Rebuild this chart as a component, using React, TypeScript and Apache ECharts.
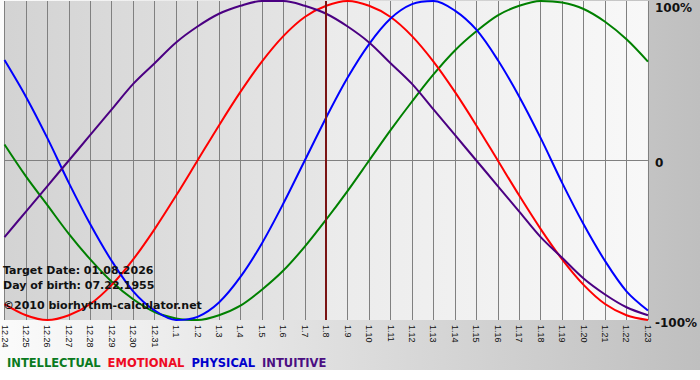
import React, { useEffect, useRef } from "react";
import * as echarts from "echarts";

const days = [
  "12.24", "12.25", "12.26", "12.27", "12.28", "12.29", "12.30", "12.31",
  "1.1", "1.2", "1.3", "1.4", "1.5", "1.6", "1.7", "1.8", "1.9", "1.10",
  "1.11", "1.12", "1.13", "1.14", "1.15", "1.16", "1.17", "1.18", "1.19",
  "1.20", "1.21", "1.22", "1.23",
];

const intellectual = [
  0.1, -0.1, -0.28, -0.46, -0.62, -0.76, -0.87, -0.95, -0.99, -1.0, -0.97,
  -0.91, -0.81, -0.69, -0.54, -0.37, -0.19, 0, 0.19, 0.37, 0.54, 0.69, 0.81,
  0.91, 0.97, 1.0, 0.99, 0.95, 0.87, 0.76, 0.62,
];

const emotional = [
  -0.9, -0.97, -1.0, -0.97, -0.9, -0.78, -0.62, -0.43, -0.22, 0, 0.22, 0.43,
  0.62, 0.78, 0.9, 0.97, 1.0, 0.97, 0.9, 0.78, 0.62, 0.43, 0.22, 0, -0.22,
  -0.43, -0.62, -0.78, -0.9, -0.97, -1.0,
];

const physical = [
  0.63, 0.4, 0.14, -0.14, -0.4, -0.63, -0.82, -0.94, -1.0, -0.98, -0.89,
  -0.73, -0.52, -0.27, 0, 0.27, 0.52, 0.73, 0.89, 0.98, 1.0, 0.94, 0.82, 0.63,
  0.4, 0.14, -0.14, -0.4, -0.63, -0.82, -0.94,
];

const intuitive = [
  -0.48, -0.32, -0.16, 0, 0.16, 0.32, 0.48, 0.61, 0.74, 0.84, 0.92, 0.97, 1.0,
  1.0, 0.97, 0.92, 0.84, 0.74, 0.61, 0.48, 0.32, 0.16, 0, -0.16, -0.32, -0.48,
  -0.61, -0.74, -0.84, -0.92, -0.97,
];

const seriesNames = ["INTELLECTUAL", "EMOTIONAL", "PHYSICAL", "INTUITIVE"];
const seriesColors = ["#008000", "#ff0000", "#0000ff", "#4b0082"];
const legendColors = ["#0a7a1e", "#ee0a22", "#0000cc", "#4b0f82"];

const targetDay = "1.8";
const infoLines = [
  "Target Date: 01.08.2026",
  "Day of birth: 07.22.1955",
  "©2010 biorhythm-calculator.net",
];

export default function App() {
  const ref = useRef<HTMLDivElement>(null);

  useEffect(() => {
    if (!ref.current) return;
    const chart = echarts.init(ref.current, null, { renderer: "svg" });
    const targetFrac = days.indexOf(targetDay) / (days.length - 1);
    const dataSets = [intellectual, emotional, physical, intuitive];

    const option: any = {
      animation: false,
      backgroundColor: "#ffffff",
      grid: {
        left: 0,
        right: 50,
        top: 1,
        bottom: 60,
        show: true,
        borderWidth: 0,
        backgroundColor: {
          type: "linear",
          x: 0,
          y: 0,
          x2: 1,
          y2: 0,
          colorStops: [
            { offset: 0, color: "#d3d3d3" },
            { offset: targetFrac, color: "#e6e6e6" },
            { offset: targetFrac, color: "#ebebeb" },
            { offset: 1, color: "#f8f8f8" },
          ],
        },
      },
      legend: {
        left: -3,
        top: 352,
        icon: "none",
        itemWidth: 0,
        itemHeight: 10,
        itemGap: 2,
        selectedMode: false,
        textStyle: {
          fontFamily: "DejaVu Sans",
          fontWeight: "bold",
          fontSize: 11.5,
        },
        data: seriesNames.map((n, i) => ({
          name: n,
          textStyle: { color: legendColors[i] },
        })),
      },
      xAxis: {
        type: "category",
        data: days,
        boundaryGap: false,
        axisLine: { show: false },
        axisTick: {
          show: true,
          length: 4,
          interval: 0,
          lineStyle: { color: "#808080" },
        },
        splitLine: {
          show: true,
          interval: 0,
          lineStyle: { color: "#808080", width: 1 },
        },
        axisLabel: {
          interval: 0,
          rotate: -90,
          margin: 5,
          fontSize: 9,
          fontFamily: "Liberation Sans",
          color: "#111111",
        },
      },
      yAxis: {
        type: "value",
        position: "right",
        min: -1,
        max: 1,
        interval: 1,
        axisLine: { show: false },
        axisTick: { show: false },
        splitLine: {
          show: true,
          lineStyle: {
            color: ["rgba(0,0,0,0)", "#808080", "rgba(0,0,0,0)"],
            width: 1,
          },
        },
        axisLabel: {
          margin: 7,
          formatter: (v: number) =>
            v === 1 ? "{top|100%}" : v === -1 ? "{bot|-100%}" : "{mid|0}",
          rich: {
            top: {
              padding: [13, 0, 0, 0],
              fontFamily: "DejaVu Sans",
              fontWeight: "bold",
              fontSize: 12,
              color: "#111",
            },
            mid: {
              padding: [4, 0, 0, 0],
              fontFamily: "DejaVu Sans",
              fontWeight: "bold",
              fontSize: 12,
              color: "#111",
            },
            bot: {
              padding: [5, 0, 0, 0],
              fontFamily: "DejaVu Sans",
              fontWeight: "bold",
              fontSize: 12,
              color: "#111",
            },
          },
        },
      },
      graphic: [
        {
          type: "rect",
          z: -10,
          silent: true,
          shape: { x: 0, y: 0, width: 700, height: 370 },
          style: {
            fill: {
              type: "linear",
              x: 0,
              y: 0,
              x2: 1,
              y2: 0,
              colorStops: [
                { offset: 0, color: "#fbfbfb" },
                { offset: 1, color: "#bfbfbf" },
              ],
            },
          },
        },
        ...infoLines.map((t, i) => ({
          type: "text",
          left: 3,
          top: [265, 280, 300][i],
          z: 10,
          style: {
            text: t,
            fontFamily: "DejaVu Sans",
            fontWeight: "bold",
            fontSize: 11,
            fill: "#111111",
          },
        })),
      ],
      series: seriesNames.map((name, i) => ({
        name,
        type: "line",
        data: dataSets[i],
        smooth: 0.33,
        symbol: "none",
        lineStyle: { color: seriesColors[i], width: 2 },
        itemStyle: { color: seriesColors[i] },
        markLine:
          i === 0
            ? {
                silent: true,
                symbol: "none",
                label: { show: false },
                lineStyle: { color: "#7a1414", width: 2, type: "solid" },
                data: [{ xAxis: targetDay }],
              }
            : undefined,
      })),
    };

    chart.setOption(option);
    return () => chart.dispose();
  }, []);

  return (
    <div
      ref={ref}
      style={{ position: "absolute", left: 0, top: 0, width: 700, height: 380 }}
    />
  );
}
